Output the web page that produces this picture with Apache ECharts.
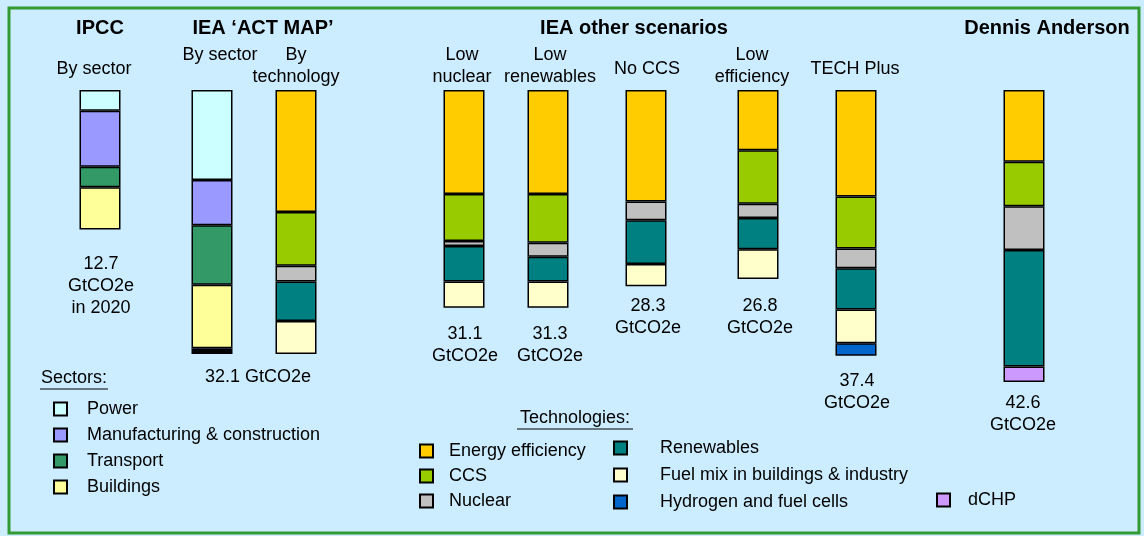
<!DOCTYPE html>
<html>
<head>
<meta charset="utf-8">
<script src="https://cdn.jsdelivr.net/npm/echarts@6/dist/echarts.min.js"></script>
<style>
	html, body { margin: 0; padding: 0; background: #CCECFF; }
	#chart { width: 1144px; height: 536px; }
</style>
</head>
<body>
<div id="chart"></div>
<script>
// scenarios, left to right
var scenarios = ['IPCC by sector', 'ACT MAP by sector', 'ACT MAP by technology', 'Low nuclear',
	'Low renewables', 'No CCS', 'Low efficiency', 'TECH Plus', 'Dennis Anderson'];

// segment sizes (GtCO2e-ish units), null = not in that bar
var power         = [2.5, 10.9, null, null, null, null, null, null, null];
var manufacturing = [6.8, 5.5, null, null, null, null, null, null, null];
var transport     = [2.5, 7.2, null, null, null, null, null, null, null];
var buildings     = [5.1, 7.7, null, null, null, null, null, null, null];
var other         = [null, 0.7, null, null, null, null, null, null, null];

var efficiency = [null, null, 14.8, 12.6, 12.6, 13.5, 7.3, 12.9, 8.7];
var ccs        = [null, null, 6.5, 5.7, 5.9, null, 6.5, 6.3, 5.4];
var nuclear    = [null, null, 1.9, 0.6, 1.7, 2.3, 1.7, 2.4, 5.3];
var renewables = [null, null, 4.8, 4.3, 3.0, 5.3, 3.8, 5.0, 14.1];
var fuelMix    = [null, null, 4.0, 3.2, 3.2, 2.7, 3.6, 4.1, null];
var hydrogen   = [null, null, null, null, null, null, null, 1.5, null];
var dchp       = [null, null, null, null, null, null, null, null, 1.9];

// totals printed under the bars
var totals = [12.7, 32.1, 31.1, 31.3, 28.3, 26.8, 37.4, 42.6];

// layout: which slot of the category axis each bar sits in
var slots = [5, 13, 19, 31, 37, 44, 52, 59, 71];
var slotCount = 80;

var font = '"Liberation Sans", Arial, sans-serif';

var cats = [];
for (var i = 0; i < slotCount; i++) cats.push('');
for (var i = 0; i < scenarios.length; i++) cats[slots[i]] = scenarios[i];

function place(vals) {
	var out = [];
	for (var i = 0; i < slotCount; i++) out.push('-');
	for (var i = 0; i < vals.length; i++) {
		if (vals[i] != null) out[slots[i]] = vals[i];
	}
	return out;
}

function bar(name, vals, color) {
	return {
		name: name,
		type: 'bar',
		stack: 'total',
		barWidth: 41,
		data: place(vals),
		itemStyle: { color: color, borderColor: '#000', borderWidth: 1.5 },
		animation: false
	};
}

function txt(str, x, y, size, bold) {
	return {
		type: 'text', x: x, y: y, silent: true,
		style: {
			text: str, fill: '#000',
			font: (bold ? 'bold ' : '') + size + 'px ' + font,
			align: 'center', verticalAlign: 'middle',
			textAlign: 'center', textVerticalAlign: 'middle',
			lineHeight: 22
		}
	};
}

function legendBox(names, left, top, gap, pad) {
	return {
		data: names, orient: 'vertical', left: left, top: top,
		itemWidth: 13, itemHeight: 13, itemGap: gap, icon: 'rect',
		selectedMode: false,
		textStyle: { fontSize: 18, fontFamily: font, color: '#000', padding: [0, 0, 0, pad] }
	};
}

var chartDom = document.getElementById('chart');
var myChart = echarts.init(chartDom);

var option = {
	backgroundColor: '#CCECFF',
	animation: false,
	grid: { left: 23, right: 1, top: 90, height: 330 },
	xAxis: { type: 'category', data: cats, show: false },
	yAxis: { type: 'value', inverse: true, min: 0, max: 40, show: false },
	legend: [
		legendBox(['Power', 'Manufacturing & construction', 'Transport', 'Buildings'], 48, 395, 8, 15),
		legendBox(['Energy efficiency', 'CCS', 'Nuclear'], 414, 437, 7, 11),
		legendBox(['Renewables', 'Fuel mix in buildings & industry', 'Hydrogen and fuel cells'], 608, 434, 9, 28),
		legendBox(['dCHP'], 931, 486, 8, 13)
	],
	series: [
		bar('Power', power, '#CCFFFF'),
		bar('Manufacturing & construction', manufacturing, '#9999FF'),
		bar('Transport', transport, '#339966'),
		bar('Buildings', buildings, '#FFFF99'),
		bar('Other', other, '#000000'),
		bar('Energy efficiency', efficiency, '#FFCC00'),
		bar('CCS', ccs, '#99CC00'),
		bar('Nuclear', nuclear, '#C0C0C0'),
		bar('Renewables', renewables, '#008080'),
		bar('Fuel mix in buildings & industry', fuelMix, '#FFFFCC'),
		bar('Hydrogen and fuel cells', hydrogen, '#0066CC'),
		bar('dCHP', dchp, '#CC99FF')
	],
	graphic: [
		{ type: 'rect', silent: true, shape: { x: 9, y: 8, width: 1130, height: 525 },
			style: { fill: 'none', stroke: '#339933', lineWidth: 3 } },
		txt('IPCC', 100, 28, 20, true),
		txt('IEA \u2018ACT MAP\u2019', 263, 28, 20, true),
		txt('IEA other scenarios', 634, 28, 20, true),
		txt('Dennis Anderson', 1047, 28, 20, true),
		txt('By sector', 94, 69, 18),
		txt('By sector', 220, 55, 18),
		txt('By\ntechnology', 296, 66, 18),
		txt('Low\nnuclear', 462, 66, 18),
		txt('Low\nrenewables', 550, 66, 18),
		txt('No CCS', 647, 69, 18),
		txt('Low\nefficiency', 752, 66, 18),
		txt('TECH Plus', 855, 69, 18),
		txt(totals[0] + '\nGtCO2e\nin 2020', 101, 286, 18),
		txt(totals[1] + ' GtCO2e', 258, 377, 18),
		txt(totals[2] + '\nGtCO2e', 465, 345, 18),
		txt(totals[3] + '\nGtCO2e', 550, 345, 18),
		txt(totals[4] + '\nGtCO2e', 648, 317, 18),
		txt(totals[5] + '\nGtCO2e', 760, 317, 18),
		txt(totals[6] + '\nGtCO2e', 857, 392, 18),
		txt(totals[7] + '\nGtCO2e', 1023, 414, 18),
		txt('Sectors:', 74, 378, 18),
		{ type: 'line', silent: true, shape: { x1: 40, y1: 389, x2: 108, y2: 389 }, style: { stroke: '#000', lineWidth: 1 } },
		txt('Technologies:', 575, 418, 18),
		{ type: 'line', silent: true, shape: { x1: 517, y1: 429, x2: 633, y2: 429 }, style: { stroke: '#000', lineWidth: 1 } }
	]
};

myChart.setOption(option);
</script>
</body>
</html>
